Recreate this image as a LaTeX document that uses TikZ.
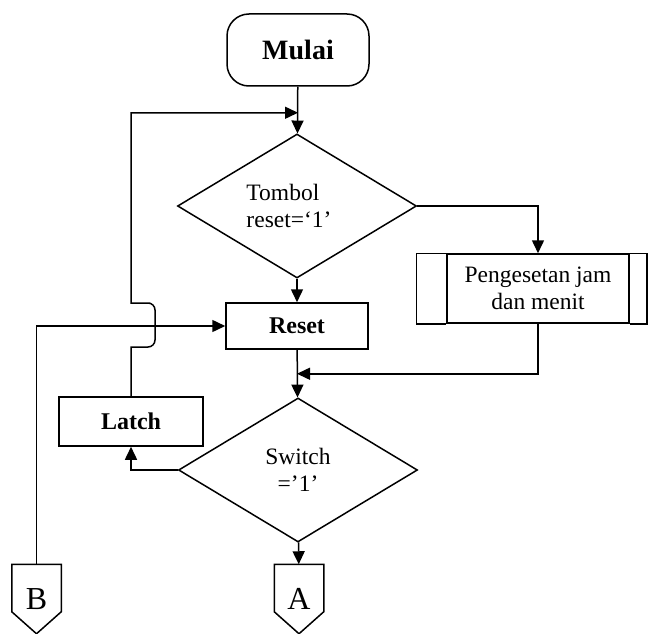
\documentclass[tikz,border=0pt]{standalone}
\usepackage{fontspec}
\setmainfont{Liberation Serif}
\usetikzlibrary{positioning,arrows.meta,shapes.geometric}

\begin{document}
\begin{tikzpicture}[x=1pt, y=-1pt, line width=1.5pt, >={Triangle[length=13pt,width=12pt]},
    every node/.style={font=\fontsize{23.5}{27.5}\selectfont},
    terminal/.style={draw, rectangle, rounded corners=22pt, minimum width=142, minimum height=72, inner sep=0pt, font=\fontsize{28}{32}\selectfont\bfseries},
    proses/.style={draw, rectangle, minimum width=142, minimum height=46, inner sep=0pt, font=\fontsize{24}{28}\selectfont\bfseries},
    keputusan/.style={draw, diamond, aspect=1.66, minimum width=239, minimum height=144, inner sep=0pt, align=center},
    konektor/.style={rectangle, minimum width=48, minimum height=68, inner sep=0pt, font=\fontsize{32}{36}\selectfont}]
    \useasboundingbox (0,0) rectangle (648,634);

    % Blocks
    \node[terminal] (mulai) at (298,50) {Mulai};
    \node[keputusan, align=left] (tombol) at (297,206) {Tombol\\reset=‘1’\hspace*{16pt}};
    \node[proses] (reset) at (297,326) {Reset};
    \node[draw, rectangle, minimum width=182, minimum height=69, inner sep=0pt, align=center] (peng) at (538,288.5) {Pengesetan jam\\dan menit};
    \node[keputusan] (switch) at (298,470) {Switch\\=’1’};
    \node[proses, minimum width=144, minimum height=49] (latch) at (131,421.5) {Latch};
    \node[konektor] (conA) at (299,599) {A};
    \node[konektor] (conB) at (36.5,599) {B};

    % side bars of the predefined process
    \draw (peng.north west) -- ++(-30,0) |- (peng.south west);
    \draw (peng.north east) -- ++(17,0) |- (peng.south east);

    % off-page connectors
    \foreach \c in {conA,conB}
      \draw (\c.north west) -- (\c.north east) -- ([yshift=22pt]\c.south east)
        -- (\c.south) -- ([yshift=22pt]\c.south west) -- cycle;

    \coordinate (atas) at ([yshift=-26pt]mulai.south);
    \coordinate (gabung) at ([yshift=-24pt]reset.south);

    % Flow
    \draw[->] (mulai) -- (tombol);
    \draw[->] (tombol) -- (reset);
    \draw[->] (tombol.east) -| (peng.north);
    \draw[->] (reset) -- (switch);
    \draw[->] (peng.south) |- (gabung);
    \draw[->] (switch) -- (conA);
    \draw[->] (switch.west) -| (latch.south);
    \draw[->] (conB.north) |- (reset.west);
    \draw[->] (latch.north) -- (131,347) -- (143,347) [rounded corners=7pt] -- (155,347)
      -- (155,303) -- (143,303) [sharp corners] -- (131,303) |- (atas);
\end{tikzpicture}
\end{document}
